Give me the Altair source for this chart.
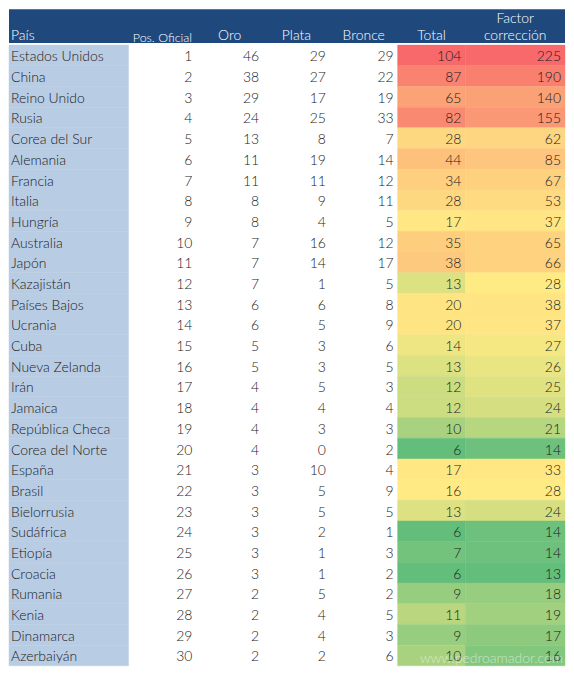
import altair as alt
import pandas as pd
import numpy as np

paises = ["Estados Unidos", "China", "Reino Unido", "Rusia", "Corea del Sur", "Alemania",
          "Francia", "Italia", "Hungría", "Australia", "Japón", "Kazajistán", "Países Bajos",
          "Ucrania", "Cuba", "Nueva Zelanda", "Irán", "Jamaica", "República Checa",
          "Corea del Norte", "España", "Brasil", "Bielorrusia", "Sudáfrica", "Etiopía",
          "Croacia", "Rumania", "Kenia", "Dinamarca", "Azerbaiyán"]
pos_oficial = [1, 2, 3, 4, 5, 6, 7, 8, 9, 10, 11, 12, 13, 14, 15, 16, 17, 18, 19, 20,
               21, 22, 23, 24, 25, 26, 27, 28, 29, 30]
oro = [46, 38, 29, 24, 13, 11, 11, 8, 8, 7, 7, 7, 6, 6, 5, 5, 4, 4, 4, 4, 3, 3, 3, 3, 3, 3, 2, 2, 2, 2]
plata = [29, 27, 17, 25, 8, 19, 11, 9, 4, 16, 14, 1, 6, 5, 3, 3, 5, 4, 3, 0, 10, 5, 5, 2, 1, 1, 5, 4, 4, 2]
bronce = [29, 22, 19, 33, 7, 14, 12, 11, 5, 12, 17, 5, 8, 9, 6, 5, 3, 4, 3, 2, 4, 9, 5, 1, 3, 2, 2, 5, 3, 6]
total = [104, 87, 65, 82, 28, 44, 34, 28, 17, 35, 38, 13, 20, 20, 14, 13, 12, 12, 10, 6,
         17, 16, 13, 6, 7, 6, 9, 11, 9, 10]
factor = [225, 190, 140, 155, 62, 85, 67, 53, 37, 65, 66, 28, 38, 37, 27, 26, 25, 24, 21, 14,
          33, 28, 24, 14, 14, 13, 18, 19, 17, 16]
headers = [["País"], ["Pos. Oficial"], ["Oro"], ["Plata"], ["Bronce"], ["Total"], ["Factor", "corrección"]]
watermark = "www.pedroamador.com"

# ---- layout ----
COL_WIDTHS = [120, 68, 67, 67, 68, 68, 100]
edges = np.concatenate([[0], np.cumsum(COL_WIDTHS)]).tolist()
TOTAL_W = edges[-1]
HEADER_H = 34
BODY_H = 623
FONT = "Lato"
FS = 14
FW = 300
TXT = "#1a1a1a"
HEADER_BG = "#1F497D"
PAIS_BG = "#B8CCE4"
GREEN, YELLOW, RED = "#63BE7B", "#FFEB84", "#F8696B"

xscale = alt.Scale(domain=[0, TOTAL_W], nice=False, zero=False)
n = len(paises)
rows = list(range(n))

# ---- header ----
hdr_rows = []
for i, lines in enumerate(headers):
    offset = 2 - len(lines)
    for j, lab in enumerate(lines):
        hdr_rows.append({"col": i, "line": j + offset, "label": lab,
                         "xl": edges[i], "xr": edges[i + 1],
                         "xc": (edges[i] + edges[i + 1]) / 2})
hdr = pd.DataFrame(hdr_rows)
yh = alt.Y("line:O", scale=alt.Scale(domain=[0, 1], paddingInner=0, paddingOuter=0), axis=None)

hdr_bg = alt.Chart(pd.DataFrame({"a": [0], "b": [TOTAL_W]})).mark_rect(color=HEADER_BG).encode(
    x=alt.X("a:Q", scale=xscale, axis=None), x2="b:Q")
hdr_left = alt.Chart(hdr[hdr.col == 0]).mark_text(
    align="left", baseline="middle", font=FONT, fontSize=FS, fontWeight=FW, color="white", dx=2, dy=1
).encode(x=alt.X("xl:Q", scale=xscale, axis=None), y=yh, text="label:N")
hdr_small = alt.Chart(hdr[hdr.col == 1]).mark_text(
    align="center", baseline="middle", font=FONT, fontSize=12.5, fontWeight=FW, color="white", dy=3
).encode(x=alt.X("xc:Q", scale=xscale, axis=None), y=yh, text="label:N")
hdr_center = alt.Chart(hdr[hdr.col > 1]).mark_text(
    align="center", baseline="middle", font=FONT, fontSize=FS, fontWeight=FW, color="white", dy=1
).encode(x=alt.X("xc:Q", scale=xscale, axis=None), y=yh, text="label:N")
header = alt.layer(hdr_bg, hdr_left, hdr_small, hdr_center).properties(width=TOTAL_W, height=HEADER_H)

# ---- body ----
yb = alt.Y("row:O", scale=alt.Scale(domain=rows, paddingInner=0, paddingOuter=0), axis=None)

base = pd.DataFrame({"row": rows, "pais": paises, "total": total, "factor": factor})

def band(ci):
    d = base.copy()
    d["x0"] = edges[ci]
    d["x1"] = edges[ci + 1]
    return d

pais_bg = alt.Chart(band(0)).mark_rect(color=PAIS_BG, stroke=PAIS_BG, strokeWidth=0.4).encode(
    x=alt.X("x0:Q", scale=xscale, axis=None), x2="x1:Q", y=yb)

def color_scale(vals):
    v = np.array(vals)
    return alt.Scale(domain=[float(v.min()), float(np.median(v)), float(v.max())],
                     range=[GREEN, YELLOW, RED], interpolate="rgb")

tot_bg = alt.Chart(band(5)).mark_rect(strokeWidth=0.4).encode(
    x=alt.X("x0:Q", scale=xscale, axis=None), x2="x1:Q", y=yb,
    color=alt.Color("total:Q", scale=color_scale(total), legend=None),
    stroke=alt.Stroke("total:Q", scale=color_scale(total), legend=None))
fac_bg = alt.Chart(band(6)).mark_rect(strokeWidth=0.4).encode(
    x=alt.X("x0:Q", scale=xscale, axis=None), x2="x1:Q", y=yb,
    color=alt.Color("factor:Q", scale=color_scale(factor), legend=None),
    stroke=alt.Stroke("factor:Q", scale=color_scale(factor), legend=None))

cols = [pos_oficial, oro, plata, bronce, total, factor]
cells = []
for k, vals in enumerate(cols):
    ci = k + 1
    for r, v in enumerate(vals):
        cells.append({"row": r, "label": str(v), "xr": edges[ci + 1], "col": ci})
cells = pd.DataFrame(cells)

pais_txt = alt.Chart(band(0)).mark_text(
    align="left", baseline="middle", font=FONT, fontSize=FS, fontWeight=FW, color=TXT, dx=2, dy=2
).encode(x=alt.X("x0:Q", scale=xscale, axis=None), y=yb, text="pais:N")
num_txt = alt.Chart(cells).mark_text(
    align="right", baseline="middle", font=FONT, fontSize=FS, fontWeight=FW, color=TXT, dx=-4, dy=2
).encode(x=alt.X("xr:Q", scale=xscale, axis=None), y=yb, text="label:N")

wm = alt.Chart(pd.DataFrame({"row": [n - 1], "xr": [TOTAL_W], "t": [watermark]})).mark_text(
    align="right", baseline="middle", font=FONT, fontSize=14, fontWeight=FW, color="#ffffff",
    opacity=0.55, dx=-2, dy=4
).encode(x=alt.X("xr:Q", scale=xscale, axis=None), y=yb, text="t:N")

body = alt.layer(pais_bg, tot_bg, fac_bg, pais_txt, num_txt, wm).resolve_scale(
    color="independent", stroke="independent").properties(width=TOTAL_W, height=BODY_H)

chart = alt.vconcat(header, body, spacing=0).properties(padding=0).configure_view(stroke=None)

chart.save("out.html", embed_options={"renderer": "svg", "actions": False})
